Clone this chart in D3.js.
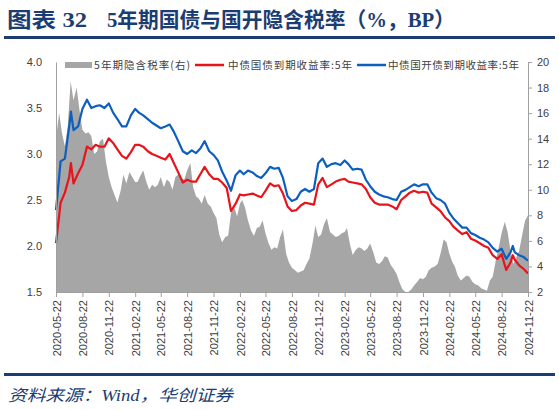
<!DOCTYPE html>
<html><head><meta charset="utf-8">
<script src="https://cdn.jsdelivr.net/npm/d3@7"></script>
<style>body{margin:0;background:#fff} svg{display:block}</style>
</head><body>
<svg id="c" width="559" height="410"></svg>
<script>
// ---------- data ----------
const lineDates = [
"2020-05-22","2020-06-07","2020-06-22","2020-07-07","2020-07-13","2020-07-22","2020-08-07","2020-08-22",
"2020-09-07","2020-09-22","2020-10-07","2020-10-22","2020-11-07","2020-11-22","2020-12-07","2020-12-22",
"2021-01-07","2021-01-22","2021-02-07","2021-02-22","2021-03-07","2021-03-22","2021-04-07","2021-04-22",
"2021-05-07","2021-05-22","2021-06-07","2021-06-22","2021-07-07","2021-07-22","2021-08-07","2021-08-22",
"2021-09-07","2021-09-22","2021-10-07","2021-10-22","2021-11-07","2021-11-22","2021-12-07","2021-12-22",
"2022-01-07","2022-01-22","2022-02-07","2022-02-22","2022-03-07","2022-03-22","2022-04-07","2022-04-22",
"2022-05-07","2022-05-22","2022-06-07","2022-06-22","2022-07-07","2022-07-22","2022-08-07","2022-08-22",
"2022-09-07","2022-09-22","2022-10-07","2022-10-22","2022-11-07","2022-11-22","2022-12-07","2022-12-22",
"2023-01-07","2023-01-22","2023-02-07","2023-02-22","2023-03-07","2023-03-22","2023-04-07","2023-04-22",
"2023-05-07","2023-05-22","2023-06-07","2023-06-22","2023-07-07","2023-07-22","2023-08-07","2023-08-22",
"2023-09-07","2023-09-22","2023-10-07","2023-10-22","2023-11-07","2023-11-22","2023-12-07","2023-12-22",
"2024-01-07","2024-01-22","2024-02-07","2024-02-22","2024-03-07","2024-03-22","2024-04-07","2024-04-22",
"2024-05-07","2024-05-22","2024-06-07","2024-06-22","2024-07-07","2024-07-22","2024-08-07","2024-08-22",
"2024-09-07","2024-09-22","2024-09-30","2024-10-07","2024-10-22","2024-11-07","2024-11-22"];

// 中债国债到期收益率:5年 (%)
const govYield = [
2.03,2.47,2.58,2.75,2.90,2.68,2.79,2.88,
3.08,3.05,3.10,3.08,3.08,3.17,3.12,3.05,
2.98,2.95,3.02,3.10,3.10,3.08,3.03,3.00,
2.98,2.96,2.94,3.00,2.90,2.80,2.69,2.72,
2.70,2.70,2.78,2.86,2.78,2.73,2.73,2.69,
2.63,2.38,2.46,2.56,2.55,2.56,2.57,2.55,
2.53,2.60,2.68,2.65,2.66,2.57,2.43,2.38,
2.39,2.44,2.47,2.46,2.45,2.67,2.74,2.64,
2.67,2.70,2.72,2.73,2.70,2.69,2.68,2.67,
2.62,2.53,2.47,2.45,2.45,2.45,2.43,2.40,
2.50,2.54,2.58,2.60,2.58,2.59,2.58,2.46,
2.42,2.38,2.31,2.27,2.21,2.17,2.13,2.15,
2.08,2.06,2.03,2.00,1.98,1.90,1.86,1.91,
1.74,1.82,1.90,1.85,1.79,1.75,1.70];

// 中债国开债到期收益率:5年 (%)
const cdbYield = [
2.39,2.92,2.95,3.30,3.46,3.26,3.30,3.49,
3.59,3.50,3.52,3.53,3.50,3.55,3.45,3.38,
3.30,3.30,3.42,3.49,3.45,3.42,3.38,3.34,
3.31,3.28,3.30,3.32,3.24,3.14,3.03,3.00,
3.04,3.01,3.06,3.14,3.03,2.99,2.93,2.81,
2.71,2.60,2.77,2.82,2.78,2.82,2.80,2.76,
2.74,2.79,2.86,2.84,2.85,2.74,2.54,2.49,
2.51,2.59,2.62,2.59,2.62,2.90,2.95,2.86,
2.89,2.90,2.88,2.93,2.89,2.83,2.84,2.83,
2.72,2.65,2.59,2.56,2.54,2.53,2.51,2.50,
2.59,2.61,2.64,2.67,2.65,2.67,2.67,2.58,
2.52,2.50,2.46,2.36,2.30,2.25,2.20,2.20,
2.14,2.12,2.09,2.07,2.04,1.98,1.94,1.97,
1.86,1.93,2.00,1.93,1.90,1.88,1.84];

const taxDates = [
"2020-05-22",
"2020-06-02","2020-06-12","2020-06-22","2020-07-02","2020-07-12","2020-07-22","2020-08-02","2020-08-12","2020-08-22",
"2020-09-02","2020-09-12","2020-09-22","2020-10-02","2020-10-12","2020-10-22","2020-11-02","2020-11-12","2020-11-22",
"2020-12-02","2020-12-12","2020-12-22",
"2021-01-02","2021-01-12","2021-01-22","2021-02-02","2021-02-12","2021-02-22","2021-03-02","2021-03-12","2021-03-22",
"2021-04-02","2021-04-12","2021-04-22","2021-05-02","2021-05-12","2021-05-22","2021-06-02","2021-06-12","2021-06-22",
"2021-07-02","2021-07-12","2021-07-22","2021-08-02","2021-08-12","2021-08-22","2021-09-02","2021-09-12","2021-09-22",
"2021-10-02","2021-10-12","2021-10-22","2021-11-02","2021-11-12","2021-11-22","2021-12-02","2021-12-12","2021-12-22",
"2022-01-02","2022-01-12","2022-01-22","2022-02-02","2022-02-12","2022-02-22","2022-03-02","2022-03-12","2022-03-22",
"2022-04-02","2022-04-12","2022-04-22","2022-05-02","2022-05-12","2022-05-22","2022-06-02","2022-06-12","2022-06-22",
"2022-07-02","2022-07-12","2022-07-22","2022-08-02","2022-08-12","2022-08-22","2022-09-02","2022-09-12","2022-09-22",
"2022-10-02","2022-10-12","2022-10-22","2022-11-02","2022-11-12","2022-11-22","2022-12-02","2022-12-12","2022-12-22",
"2023-01-02","2023-01-12","2023-01-22","2023-02-02","2023-02-12","2023-02-22","2023-03-02","2023-03-12","2023-03-22",
"2023-04-02","2023-04-12","2023-04-22","2023-05-02","2023-05-12","2023-05-22","2023-06-02","2023-06-12","2023-06-22",
"2023-07-02","2023-07-12","2023-07-22","2023-08-02","2023-08-12","2023-08-22","2023-09-02","2023-09-12","2023-09-22",
"2023-10-02","2023-10-12","2023-10-22","2023-11-02","2023-11-12","2023-11-22","2023-12-02","2023-12-12","2023-12-22",
"2024-01-02","2024-01-12","2024-01-22","2024-02-02","2024-02-12","2024-02-22","2024-03-02","2024-03-12","2024-03-22",
"2024-04-02","2024-04-12","2024-04-22","2024-05-02","2024-05-12","2024-05-22","2024-06-02","2024-06-12","2024-06-22",
"2024-07-02","2024-07-12","2024-07-22","2024-08-02","2024-08-12","2024-08-22","2024-09-02","2024-09-12","2024-09-22",
"2024-10-02","2024-10-12","2024-10-22","2024-11-02","2024-11-12","2024-11-22"];

// 5年期隐含税率 (右轴)
const taxRate = [
14.0,
16.0,14.4,13.4, 15.0,18.5,17.0, 18.0,16.2,14.7,
14.4,14.5,14.2, 12.8,13.0,13.8, 14.0,12.2,11.0,
10.2,9.6,9.0,
9.9,11.2,10.5, 11.4,11.0,10.6, 10.6,11.1,11.5,
10.6,10.0,10.4, 10.2,10.4,11.0, 10.2,10.8,10.6,
10.0,11.0,11.2, 10.9,10.8,11.5, 12.1,10.2,9.5,
9.3,8.9,9.6, 8.9,8.7,8.2, 7.8,6.5,5.9,
6.3,6.4,8.2, 8.7,7.9,8.9, 9.2,8.6,7.6,
6.8,6.4,7.0, 7.1,7.6,6.6, 5.8,5.3,5.5,
5.4,6.3,6.9, 5.0,4.3,3.9, 3.7,3.5,3.6,
3.7,4.2,4.6, 5.8,7.2,6.3, 6.5,7.3,7.8,
6.7,6.5,6.3, 6.4,6.6,6.7, 7.0,5.8,4.9,
5.3,5.5,5.4, 5.2,5.4,5.8, 5.1,4.3,4.2,
4.4,4.8,4.7, 4.1,3.8,3.4, 2.7,2.2,1.9,
1.9,2.2,2.5, 2.8,3.1,3.0, 3.2,3.7,3.9,
4.0,4.2,5.0, 6.1,5.9,5.0, 4.4,4.0,3.3,
2.9,3.1,3.3, 3.2,2.8,2.6, 2.5,2.3,2.2,
2.1,2.9,3.2, 4.5,5.5,6.6, 7.5,6.7,5.2,
4.2,4.7,5.2, 6.5,7.6,8.0];

const xTickLabels = ["2020-05-22","2020-08-22","2020-11-22","2021-02-22","2021-05-22","2021-08-22",
"2021-11-22","2022-02-22","2022-05-22","2022-08-22","2022-11-22","2023-02-22","2023-05-22",
"2023-08-22","2023-11-22","2024-02-22","2024-05-22","2024-08-22","2024-11-22"];
const leftTicks = [1.5,2.0,2.5,3.0,3.5,4.0];
const rightTicks = [2,4,6,8,10,12,14,16,18,20];
const seriesNames = ["5年期隐含税率(右)","中债国债到期收益率:5年","中债国开债到期收益率:5年"];
const titleLeft = "图表 32";
const titleRight = "5年期国债与国开隐含税率（%，BP）";
const sourceText = "资料来源：Wind，华创证券";

// ---------- drawing ----------
const svg = d3.select("#c");
const parse = d3.timeParse("%Y-%m-%d");
const navy = "#1b3d73";
const grayFill = "#a6a6a6", red = "#e8141c", blue = "#0c5fbf";
const axisFont = "'Liberation Sans', Arial, sans-serif";
const cjkFont = "'Noto Sans CJK SC', sans-serif";

const x = d3.scaleTime().domain([parse("2020-05-22"), parse("2024-11-22")]).range([56, 528]);
const yL = d3.scaleLinear().domain([1.5, 4.0]).range([292, 62]);
const yR = d3.scaleLinear().domain([2, 20]).range([292, 62]);

// title
svg.append("text").attr("x", 7).attr("y", 27)
  .attr("font-family", "'Liberation Serif', 'Noto Sans CJK SC', serif").attr("font-weight", "bold")
  .attr("font-size", 21).attr("fill", navy).text(titleLeft)
  .attr("textLength", 80).attr("lengthAdjust", "spacingAndGlyphs");
svg.append("text").attr("x", 107).attr("y", 27)
  .attr("font-family", "'Liberation Serif', 'Noto Sans CJK SC', serif").attr("font-weight", "bold")
  .attr("font-size", 21).attr("fill", navy).text(titleRight)
  .attr("textLength", 348).attr("lengthAdjust", "spacingAndGlyphs");
svg.append("rect").attr("x", 4).attr("y", 36).attr("width", 551).attr("height", 3).attr("fill", navy);

// tax area
const taxData = taxDates.map((d, i) => ({date: parse(d), v: taxRate[i]}));
svg.append("path").datum(taxData)
  .attr("fill", grayFill)
  .attr("d", d3.area().x(d => x(d.date)).y0(yR(2)).y1(d => yR(Math.max(2, d.v))));

// lines
const lineData = (vals) => lineDates.map((d, i) => ({date: parse(d), v: vals[i]}));
const line = d3.line().x(d => x(d.date)).y(d => yL(d.v));
svg.append("path").datum(lineData(govYield)).attr("fill", "none").attr("stroke", red)
  .attr("stroke-width", 2.2).attr("stroke-linejoin", "round").attr("d", line);
svg.append("path").datum(lineData(cdbYield)).attr("fill", "none").attr("stroke", blue)
  .attr("stroke-width", 2.2).attr("stroke-linejoin", "round").attr("d", line);

// axes
function styleAxis(g) {
  g.selectAll(".domain").attr("stroke", "#a0a0a0");
  g.selectAll(".tick line").attr("stroke", "#a0a0a0");
  g.selectAll("text").attr("fill", "#404040").attr("font-family", axisFont).attr("font-size", 11);
}
const gL = svg.append("g").attr("transform", "translate(56,0)")
  .call(d3.axisLeft(yL).tickValues(leftTicks).tickFormat(d3.format(".1f")).tickSize(0).tickPadding(14));
styleAxis(gL);
const gR = svg.append("g").attr("transform", "translate(528,0)")
  .call(d3.axisRight(yR).tickValues(rightTicks).tickSize(4).tickSizeOuter(0).tickPadding(5));
styleAxis(gR);
const gB = svg.append("g").attr("transform", "translate(0,292)")
  .call(d3.axisBottom(x).tickValues(xTickLabels.map(parse)).tickFormat(d3.timeFormat("%Y-%m-%d"))
    .tickSize(5).tickSizeOuter(0));
styleAxis(gB);
gB.selectAll(".tick text").attr("transform", "rotate(-90)").attr("x", -8).attr("y", 0)
  .attr("dy", "0.38em").style("text-anchor", "end");

// legend
const lg = svg.append("g");
lg.append("rect").attr("x", 65).attr("y", 62).attr("width", 27).attr("height", 6).attr("fill", grayFill);
lg.append("line").attr("x1", 195).attr("x2", 224).attr("y1", 65).attr("y2", 65).attr("stroke", red).attr("stroke-width", 2.5);
lg.append("line").attr("x1", 357).attr("x2", 386).attr("y1", 65).attr("y2", 65).attr("stroke", blue).attr("stroke-width", 2.5);
const legendPos = [[94, 96], [228, 124], [388, 131]];
seriesNames.forEach((n, i) => {
  lg.append("text").attr("x", legendPos[i][0]).attr("y", 69)
    .attr("font-family", cjkFont).attr("font-size", 10.5).attr("fill", "#404040")
    .attr("textLength", legendPos[i][1]).attr("lengthAdjust", "spacing").text(n);
});

// footer
svg.append("rect").attr("x", 4).attr("y", 373).attr("width", 551).attr("height", 3).attr("fill", navy);
svg.append("text").attr("x", 8).attr("y", 401)
  .attr("font-family", "'Liberation Serif', 'Noto Sans CJK SC', serif").attr("font-style", "italic")
  .attr("font-size", 16).attr("fill", navy).text(sourceText)
  .attr("textLength", 225).attr("lengthAdjust", "spacingAndGlyphs");
</script>
</body></html>
